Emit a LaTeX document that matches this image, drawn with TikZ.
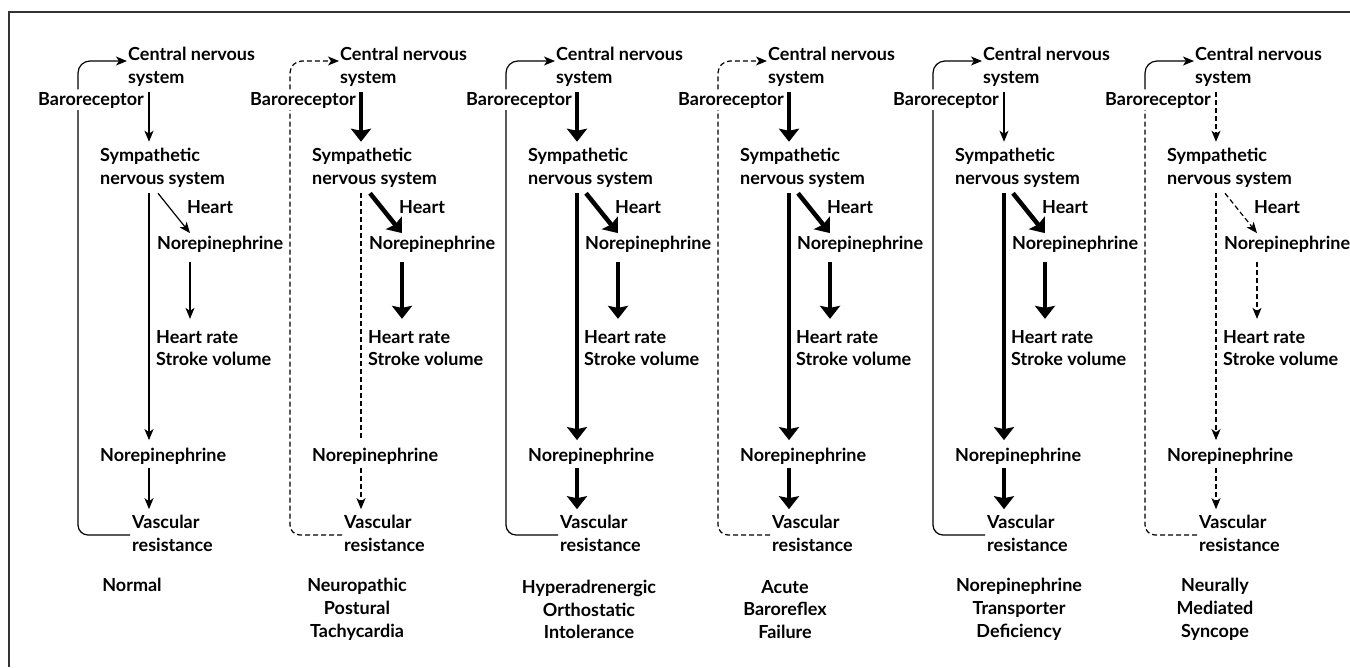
\documentclass[tikz,border=0pt]{standalone}
\usepackage{fontspec}
\setmainfont{Lato}
\usetikzlibrary{arrows.meta,calc}
\newcommand\dfont{\fontsize{18pt}{22.7pt}\selectfont\bfseries}
\tikzset{
  txt/.style={font=\dfont, inner sep=0pt, align=left, anchor=west},
  lab/.style={font=\dfont, inner sep=0pt, align=center, anchor=center},
  thinA/.style={line width=1.2pt, -{Stealth[length=11pt,width=9pt,inset=3pt]}},
  thickA/.style={line width=4.5pt, -{Stealth[length=13pt,width=20pt,inset=2pt]}},
  dashA/.style={line width=1.2pt, dash pattern=on 5pt off 3pt, -{Stealth[length=11pt,width=9pt,inset=3pt]}},
  dashL/.style={line width=1.2pt, dash pattern=on 5pt off 3pt},
  solidL/.style={line width=1.2pt},
}
% #1 xshift, #2 prefix, #3 loop top, #4 loop bottom, #5 cns-sym, #6 sym-ne2, #7 diag, #8 ne1-hr, #9 ne2-vr
\newcommand\panelDraw[9]{%
\begin{scope}[xshift=#1]
  \coordinate (#2lx) at (78,0);
  \coordinate (#2ax) at (149,0);
  \coordinate (#2bx) at (190,0);
  \coordinate (#2dx) at (158,0);
  \node[txt] (#2cns)  at (128,66.5)  {Central nervous\\system};
  \node[txt] (#2baro) at (38,100.5)  {Baroreceptor};
  \node[txt] (#2sym)  at (100,167.5) {Sympathetic\\nervous system};
  \node[txt] (#2hrt)  at (187,207)   {Heart};
  \node[txt] (#2neA)  at (157,244.5) {Norepinephrine};
  \node[txt] (#2hr)   at (156,348)   {Heart rate\\Stroke volume};
  \node[txt] (#2neB)  at (100,456.5) {Norepinephrine};
  \node[txt] (#2vr)   at (132,533.5) {Vascular\\resistance};
  \draw[#5, shorten <=6pt, shorten >=6pt] (#2cns.south -| #2ax) -- (#2sym.north -| #2ax);
  \draw[#6, shorten <=6pt, shorten >=8pt] (#2sym.south -| #2ax) -- (#2neB.north -| #2ax);
  \draw[#7] ($(#2sym.south -| #2dx)+(0,6)$) -- ($(#2neA.north -| #2bx)+(0,-3)$);
  \draw[#8, shorten <=9pt, shorten >=11pt] (#2neA.south -| #2bx) -- (#2hr.north -| #2bx);
  \draw[#9, shorten <=3pt, shorten >=6pt] (#2neB.south -| #2ax) -- (#2vr.north -| #2ax);
  \draw[#4, rounded corners=10pt] ($(#2vr.west)+(-2,1.5)$) -| ($(#2baro.south -| #2lx)+(0,1.5)$);
  \draw[#3, rounded corners=12pt, -{Stealth[length=11pt,width=9pt,inset=3pt]}]
     ($(#2baro.north -| #2lx)+(0,-3)$) |- ($(#2cns.west)+(-1,-5.5)$);
\end{scope}}
\begin{document}
\begin{tikzpicture}[x=1pt,y=-1pt]
  \useasboundingbox (0,0) rectangle (1350,667);
  \draw[line width=2pt, black!80] (9,667) -- (9,11.5) -- (1350,11.5);
  \panelDraw{0}{pa}{solidL}{solidL}{thinA}{thinA}{thinA}{thinA}{thinA}
  \panelDraw{212}{pb}{dashL}{dashL}{thickA}{dashL}{thickA}{thickA}{dashA}
  \panelDraw{428}{pc}{solidL}{solidL}{thickA}{thickA}{thickA}{thickA}{thickA}
  \panelDraw{640}{pd}{dashL}{dashL}{thickA}{thickA}{thickA}{thickA}{thickA}
  \panelDraw{855}{pe}{solidL}{solidL}{thinA}{thickA}{thickA}{thickA}{thickA}
  \panelDraw{1067}{pf}{solidL}{dashL}{dashA}{dashA}{dashA}{dashA}{dashA}
  \node[lab] (la) at (132,584.5) {Normal};
  \node[lab] (lb) at (357,609.5) {Neuropathic\\Postural\\Tachycardia};
  \node[lab] (lc) at (589,609.5) {Hyperadrenergic\\Orthostatic\\Intolerance};
  \node[lab] (ld) at (785,609.5) {Acute\\Baroreflex\\Failure};
  \node[lab] (le) at (1019,609.5) {Norepinephrine\\Transporter\\Deficiency};
  \node[lab] (lf) at (1215,609.5) {Neurally\\Mediated\\Syncope};
\end{tikzpicture}
\end{document}
